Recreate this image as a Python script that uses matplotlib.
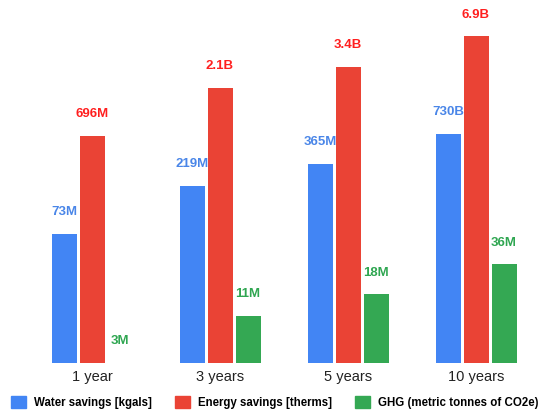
import matplotlib.pyplot as plt
import numpy as np
from matplotlib.patches import Patch

plt.rcParams['font.family'] = ['Liberation Sans', 'DejaVu Sans']

# Datos (en millones)
periodos = ['1 year', '3 years', '5 years', '10 years']
agua = [73, 219, 365, 730]
energia = [696, 2100, 3400, 6900]
ghg = [3, 11, 18, 36]
etiquetas_agua = ['73M', '219M', '365M', '730B']
etiquetas_energia = ['696M', '2.1B', '3.4B', '6.9B']
etiquetas_ghg = ['3M', '11M', '18M', '36M']

series = [
    ('Water savings [kgals]', agua, etiquetas_agua, '#4285f4', '#4a86e8'),
    ('Energy savings [therms]', energia, etiquetas_energia, '#ea4335', '#ff1f1f'),
    ('GHG (metric tonnes of CO2e)', ghg, etiquetas_ghg, '#34a853', '#2fa651'),
]

fig = plt.figure(figsize=(5.39, 4.13), dpi=100)
ax = fig.add_axes([28 / 539, 50 / 413, 512 / 539, 353 / 413])

ymin, ymax = 10 ** 0.57, 10 ** 4.10
ax.set_yscale('log')

x = np.arange(len(periodos))
paso = 28 / 128
ancho = 25 / 128

handles = []
for i, (nombre, valores, etiquetas, color, color_txt) in enumerate(series):
    pos = x + (i - 1) * paso
    ax.bar(pos, valores, width=ancho, color=color)
    for px, v, t in zip(pos, valores, etiquetas):
        ax.annotate(t, (px, max(v, ymin)), xytext=(0, 15.5), textcoords='offset points',
                    ha='center', va='center', fontsize=9.5, fontweight='bold',
                    color=color_txt, annotation_clip=False)
    handles.append(Patch(color=color, label=nombre))

ax.set_ylim(ymin, ymax)
ax.set_xlim(-0.5, 3.5)

ax.set_xticks(x)
ax.set_xticklabels(periodos, fontsize=10.5, color='#222222')
ax.tick_params(axis='x', length=0, pad=5)
ax.set_yticks([])
ax.minorticks_off()
ax.tick_params(axis='y', which='both', length=0, labelleft=False)
for s in ax.spines.values():
    s.set_visible(False)

fig.legend(handles=handles, loc='lower center', bbox_to_anchor=(0.51, -0.015), ncol=3,
           frameon=False, prop={'size': 8.3, 'weight': 'bold'}, handlelength=1.3,
           handleheight=1.2, columnspacing=2.0, handletextpad=0.7)

plt.savefig('out.png', dpi=100)
